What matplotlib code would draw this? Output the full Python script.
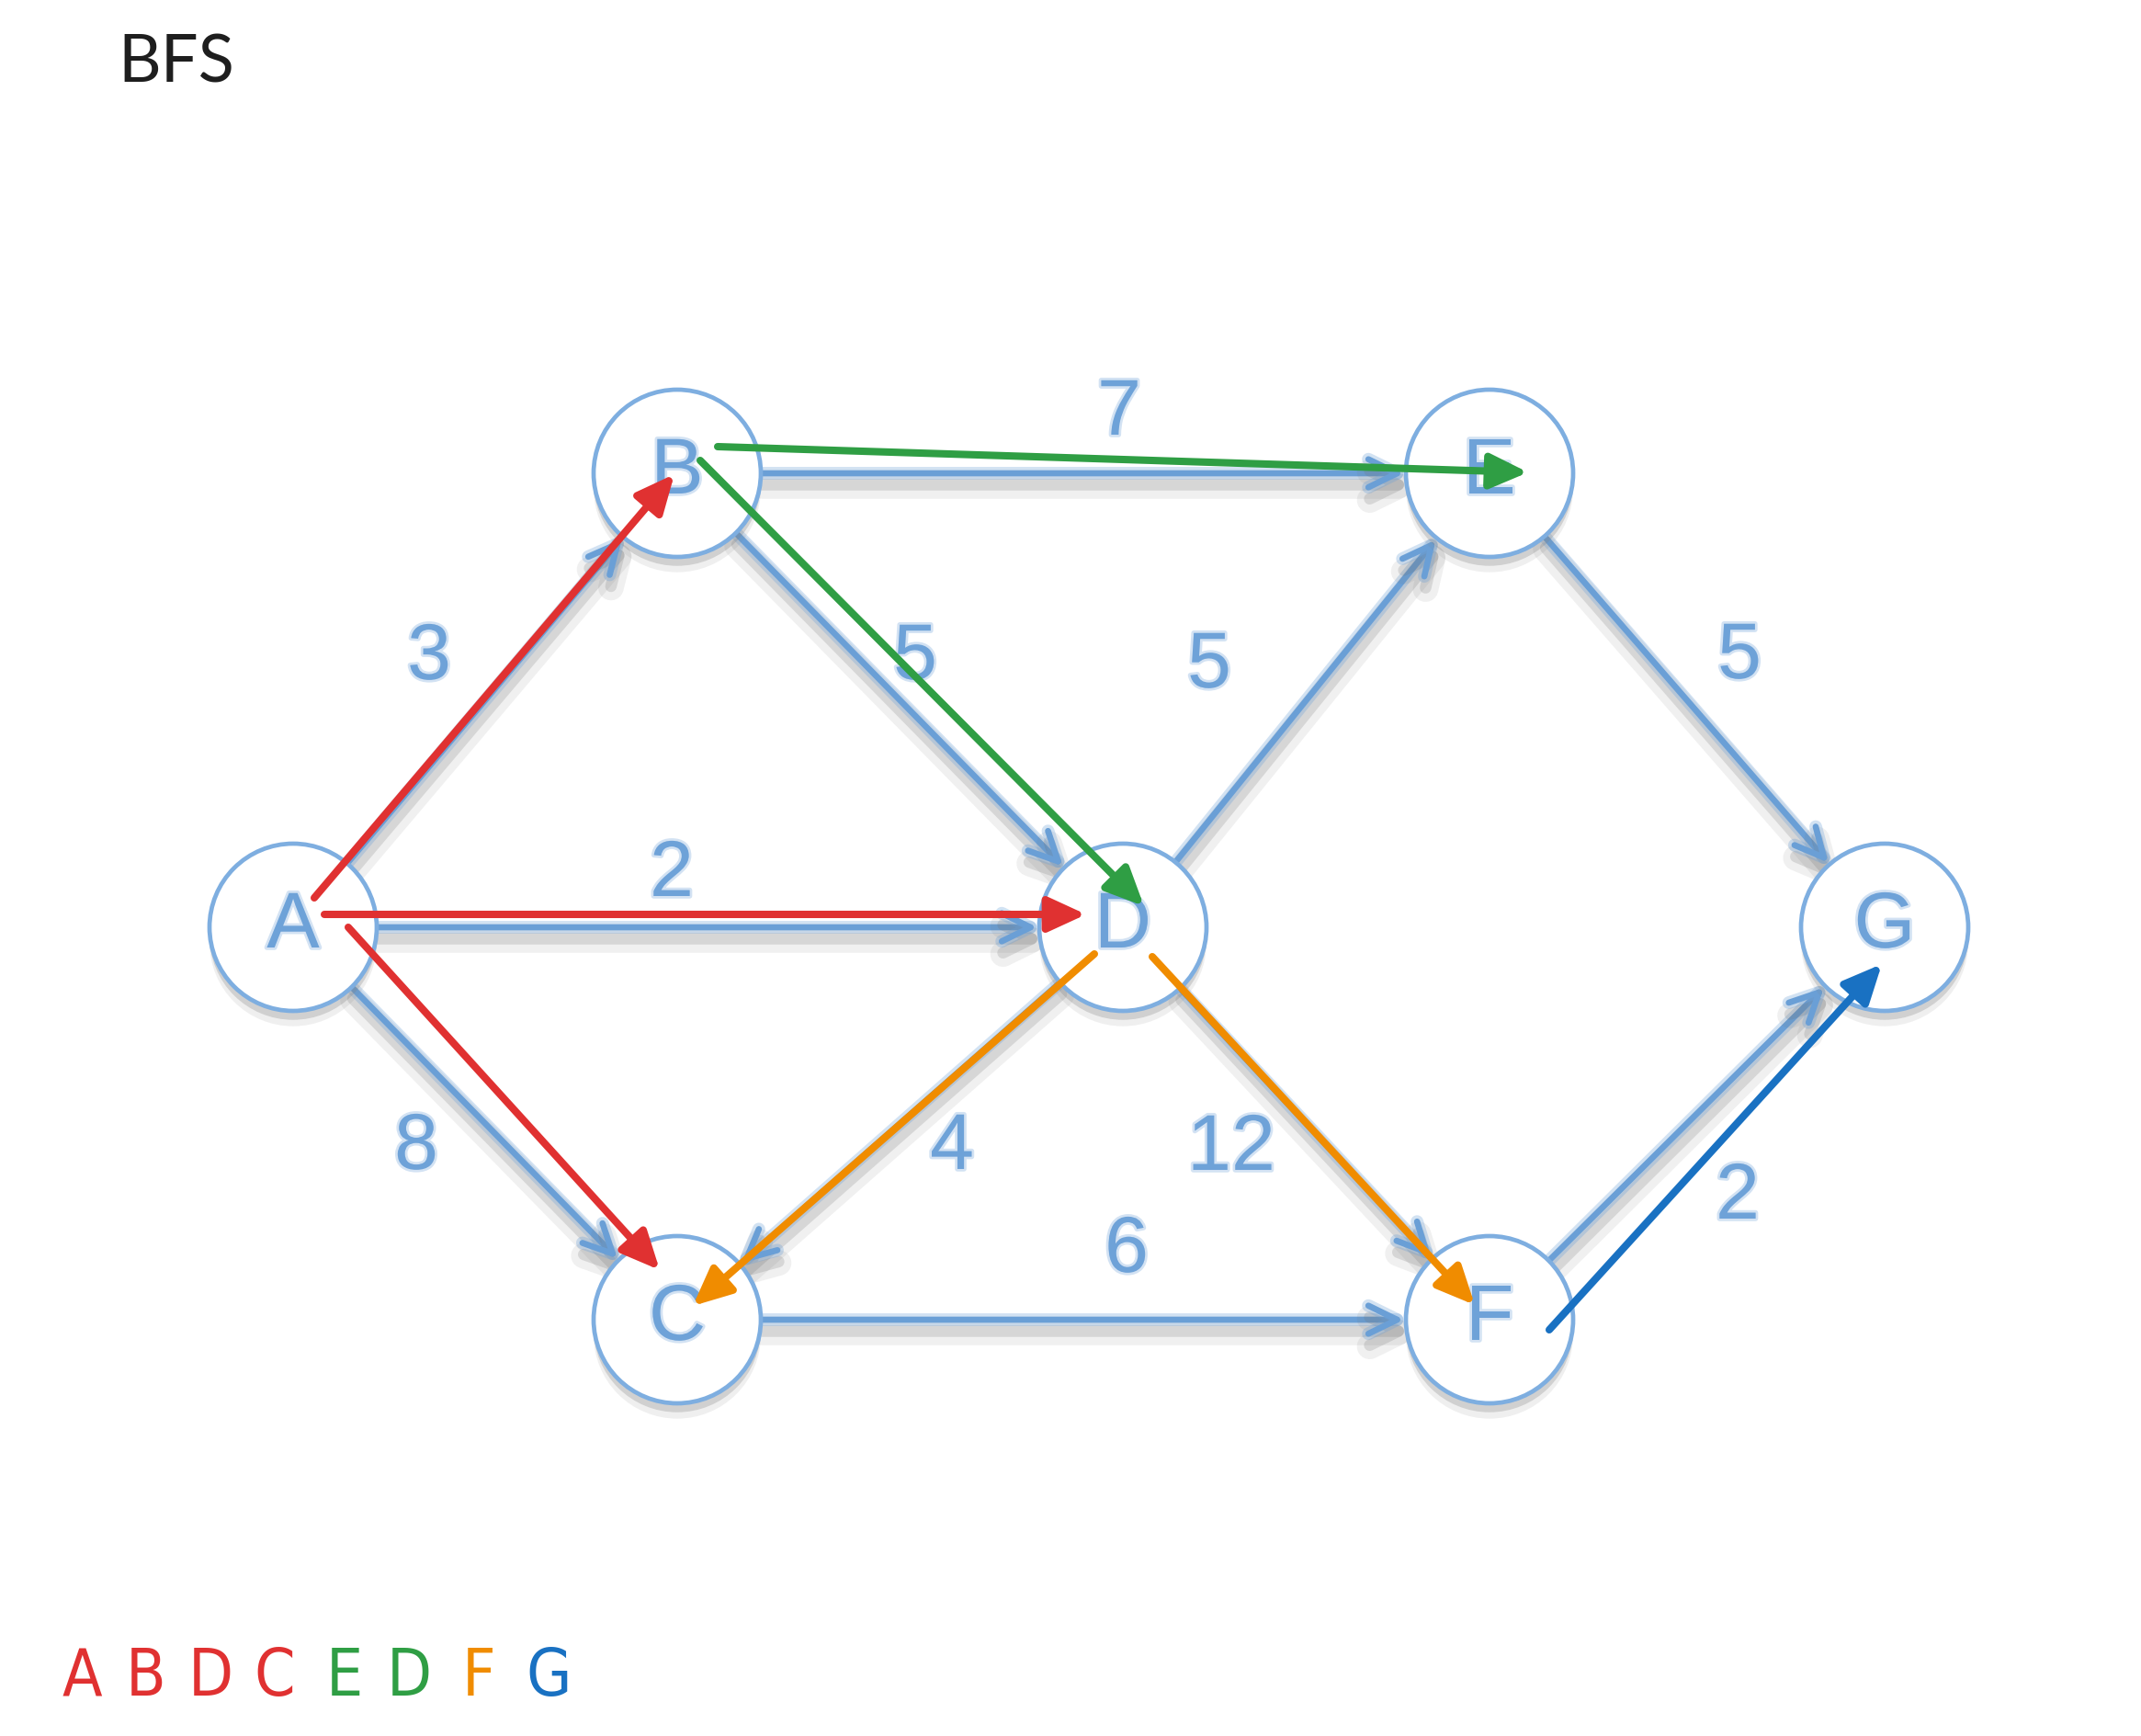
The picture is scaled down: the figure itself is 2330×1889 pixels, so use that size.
import numpy as np
import matplotlib
matplotlib.use("Agg")
import matplotlib.pyplot as plt
import matplotlib.patheffects as pe
from matplotlib.patches import Circle, FancyArrowPatch

# graph data
nodes = ["A", "B", "C", "D", "E", "F", "G"]
edges = [("A", "B"), ("A", "D"), ("A", "C"), ("B", "E"), ("B", "D"), ("D", "E"),
         ("D", "C"), ("D", "F"), ("C", "F"), ("E", "G"), ("F", "G")]
weights = [3, 2, 8, 7, 5, 5, 4, 12, 6, 5, 2]

# BFS walk drawn over the graph, with the level of each step
bfs_steps = [("A", "B"), ("A", "D"), ("A", "C"), ("B", "E"), ("B", "D"),
             ("D", "C"), ("D", "F"), ("F", "G")]
bfs_levels = [0, 0, 0, 1, 1, 2, 2, 3]
visit_order = ["A", "B", "D", "C", "E", "D", "F", "G"]
visit_levels = [0, 0, 0, 0, 1, 1, 2, 3]

# layout (pixels of the 2330x1890 canvas)
pos = {"A": (319, 1010), "B": (737, 516), "C": (737, 1437), "D": (1222, 1010),
       "E": (1621, 516), "F": (1621, 1437), "G": (2051, 1010)}
R = 91
label_pos = [(467, 718), (731, 954), (453, 1251), (1218, 452), (996, 718), (1316, 727),
             (1036, 1251), (1340, 1252), (1226, 1363), (1893, 717), (1891, 1305)]
# hand drawn arrows: offsets of tail / tip from node centres
step_tail = [(23, -32), (34, -14), (60, 0), (44, -29), (25, -14), (-31, 29), (32, 32), (65, 11)]
step_tip = [(-3, 1), (-40, -14), (-19, -54), (42, -1), (23, -23), (17, -15), (-16, -16), (-3, 40)]

level_colors = ["#e03131", "#2f9e44", "#f08c00", "#1971c2"]
edge_blue = "#6a9fd6"
ring_blue = "#7eaee0"
text_blue = "#6ea2d8"

fig = plt.figure(figsize=(23.3, 18.9), dpi=100)
ax = fig.add_axes([0, 0, 1, 1])
ax.set_xlim(0, 2330)
ax.set_ylim(1890, 0)
ax.axis("off")

line_fx = [pe.SimpleLineShadow(offset=(1, -10), shadow_color="#707070", alpha=0.10, linewidth=20),
           pe.SimpleLineShadow(offset=(1, -9), shadow_color="#707070", alpha=0.20, linewidth=9),
           pe.Stroke(linewidth=10, foreground=edge_blue, alpha=0.30),
           pe.Normal()]

# base graph edges
for (a, b), w, lp in zip(edges, weights, label_pos):
    p1 = np.array(pos[a], float)
    p2 = np.array(pos[b], float)
    u = (p2 - p1) / np.linalg.norm(p2 - p1)
    s = p1 + u * R
    e = p2 - u * (R + 2)
    arr = FancyArrowPatch(s, e, arrowstyle="->,head_length=0.45,head_width=0.22",
                          mutation_scale=50, lw=4.8, color=edge_blue,
                          capstyle="round", joinstyle="round", zorder=2,
                          shrinkA=0, shrinkB=0, path_effects=line_fx)
    ax.add_patch(arr)
    ax.text(lp[0], lp[1], str(w), fontsize=62, color=text_blue, ha="center",
            va="center", family="Liberation Sans", zorder=2,
            path_effects=[pe.withStroke(linewidth=4, foreground=text_blue, alpha=0.3)])

# nodes
for n in nodes:
    x, y = pos[n]
    c = Circle((x, y), R, facecolor="white", edgecolor=ring_blue, lw=3.4, zorder=3,
               path_effects=[pe.SimplePatchShadow(offset=(0, -12), shadow_rgbFace="#808080", alpha=0.12),
                             pe.SimplePatchShadow(offset=(0, -7), shadow_rgbFace="#808080", alpha=0.28),
                             pe.Normal()])
    ax.add_patch(c)
    ax.text(x, y, n, fontsize=62, color=text_blue, ha="center", va="center",
            family="Liberation Sans", zorder=4,
            path_effects=[pe.withStroke(linewidth=4, foreground=text_blue, alpha=0.3)])

# BFS arrows
for (a, b), lvl, t0, t1 in zip(bfs_steps, bfs_levels, step_tail, step_tip):
    s = (pos[a][0] + t0[0], pos[a][1] + t0[1])
    e = (pos[b][0] + t1[0], pos[b][1] + t1[1])
    arr = FancyArrowPatch(s, e, arrowstyle="-|>,head_length=0.5,head_width=0.23",
                          mutation_scale=50, lw=5.8, color=level_colors[lvl],
                          capstyle="round", joinstyle="round", zorder=5,
                          shrinkA=0, shrinkB=0)
    ax.add_patch(arr)

ax.text(128, 89, "BFS", fontsize=52, color="#1e1e1e", ha="left", va="baseline",
        family="Lato")

# visit order line at the bottom
for i, (ch, lvl) in enumerate(zip(visit_order, visit_levels)):
    ax.text(89 + 70 * i + 6 * lvl, 1845, ch, fontsize=51, color=level_colors[lvl],
            ha="center", va="baseline", family="DejaVu Sans", fontstretch="condensed")

fig.savefig("out.png", dpi=100, facecolor="white")
